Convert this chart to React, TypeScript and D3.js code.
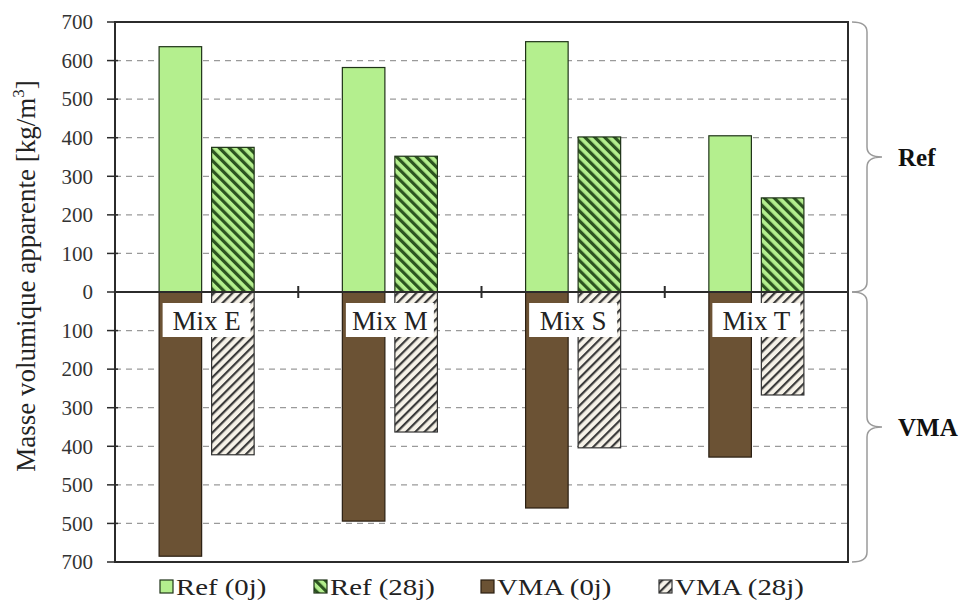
import React from "react";
import * as d3 from "d3";

const categories = ["Mix E", "Mix M", "Mix S", "Mix T"];
const ages = ["0j", "28j"];
const ref0j = [636, 582, 649, 405];
const ref28j = [375, 352, 402, 244];
const vma0j = [685, 594, 560, 428];
const vma28j = [422, 363, 404, 267];
const tickValues = [700, 600, 500, 400, 300, 200, 100, 0, -100, -200, -300, -400, -500, -600, -700];
const tickLabels = ["700", "600", "500", "400", "300", "200", "100", "0", "100", "200", "300", "400", "500", "500", "700"];
const legendLabels = ["Ref (0j)", "Ref (28j)", "VMA (0j)", "VMA (28j)"];
const groupLabels = ["Ref", "VMA"];

const W = 966;
const H = 606;
const PL = 115, PR = 848, PT = 22, PB = 562;
const FONT = "'Liberation Serif', 'Times New Roman', Times, serif";
const GREEN = "#b4ef8e";
const BROWN = "#6b5234";
const TXT = { fontFamily: FONT };

export default function App() {
  const y = d3.scaleLinear().domain([-700, 700]).range([PB, PT]);
  const x0 = d3.scaleBand<string>().domain(categories).range([PL, PR]);
  const x1 = d3
    .scaleBand<string>()
    .domain(ages)
    .range([0, x0.bandwidth()])
    .paddingInner(0.19)
    .paddingOuter(0.84);
  const bw = x1.bandwidth();
  const y0 = y(0);

  const fills = [GREEN, "url(#hatchGreen)", BROWN, "url(#hatchGray)"];
  const strokes = ["#1f3318", "#1f3318", "#2a1f12", "#333"];

  const brace = (ya: number, yb: number) => {
    const xa = 852, xv = 867, xt = 882, r = 10;
    const mid = (ya + yb) / 2;
    const p = d3.path();
    p.moveTo(xa, ya);
    p.quadraticCurveTo(xv, ya, xv, ya + r);
    p.lineTo(xv, mid - r);
    p.quadraticCurveTo(xv, mid, xt, mid);
    p.quadraticCurveTo(xv, mid, xv, mid + r);
    p.lineTo(xv, yb - r);
    p.quadraticCurveTo(xv, yb, xa, yb);
    return p.toString();
  };

  const legendX = [160, 314, 481, 659];

  return (
    <svg
      width={W}
      height={H}
      style={{ position: "absolute", left: 0, top: 0, background: "#fff", fontFamily: FONT }}
    >
      <defs>
        <pattern id="hatchGreen" patternUnits="userSpaceOnUse" width="7" height="7" patternTransform="rotate(-45)">
          <rect width="7" height="7" fill={GREEN} />
          <rect width="3.2" height="7" fill="#2c5420" />
        </pattern>
        <pattern id="hatchGray" patternUnits="userSpaceOnUse" width="6.5" height="6.5" patternTransform="rotate(45)">
          <rect width="6.5" height="6.5" fill="#f6f2e8" />
          <rect width="2.2" height="6.5" fill="#3a3a3a" />
        </pattern>
      </defs>

      {/* gridlines */}
      {tickValues
        .filter((v) => v !== 0 && Math.abs(v) !== 700)
        .map((v) => (
          <line key={"g" + v} x1={PL} x2={PR} y1={y(v)} y2={y(v)} stroke="#9a9a9a" strokeWidth={1.2} strokeDasharray="6,5" />
        ))}

      {/* bars */}
      {categories.map((c, i) => {
        const bx0 = (x0(c) as number) + (x1("0j") as number);
        const bx28 = (x0(c) as number) + (x1("28j") as number);
        return (
          <g key={c}>
            <rect x={bx0} y={y(ref0j[i])} width={bw} height={y0 - y(ref0j[i])} fill={fills[0]} stroke={strokes[0]} strokeWidth={1.2} />
            <rect x={bx28} y={y(ref28j[i])} width={bw} height={y0 - y(ref28j[i])} fill={fills[1]} stroke={strokes[1]} strokeWidth={1.2} />
            <rect x={bx0} y={y0} width={bw} height={y(-vma0j[i]) - y0} fill={fills[2]} stroke={strokes[2]} strokeWidth={1.2} />
            <rect x={bx28} y={y0} width={bw} height={y(-vma28j[i]) - y0} fill={fills[3]} stroke={strokes[3]} strokeWidth={1.2} />
          </g>
        );
      })}

      {/* zero line and category ticks */}
      <line x1={PL} x2={PR} y1={y0} y2={y0} stroke="#2b2b2b" strokeWidth={2} />
      {categories.slice(1).map((c) => (
        <line key={"ct" + c} x1={x0(c) as number} x2={x0(c) as number} y1={y0 - 6} y2={y0 + 6} stroke="#2b2b2b" strokeWidth={2} />
      ))}

      {/* frame */}
      <rect x={PL} y={PT} width={PR - PL} height={PB - PT} fill="none" stroke="#2b2b2b" strokeWidth={2} />

      {/* y ticks */}
      {tickValues.map((v, i) => (
        <g key={"t" + i}>
          <line x1={PL - 8} x2={PL + 3} y1={y(v)} y2={y(v)} stroke="#2b2b2b" strokeWidth={1.5} />
          <text x={93} y={y(v)} dy="0.35em" textAnchor="end" fontSize={21} fill="#333" style={TXT}>
            {tickLabels[i]}
          </text>
        </g>
      ))}

      {/* category labels */}
      {categories.map((c) => {
        const cx = (x0(c) as number) + x0.bandwidth() / 2;
        return (
          <g key={"cl" + c}>
            <rect x={cx - 44} y={303} width={88} height={34} fill="#fff" />
            <text x={cx} y={321} dy="0.35em" textAnchor="middle" fontSize={27} fill="#222" style={TXT}>
              {c}
            </text>
          </g>
        );
      })}

      {/* y axis title */}
      <text
        transform={`translate(35, 276) rotate(-90)`}
        textAnchor="middle"
        fontSize={27}
        fill="#222"
        style={TXT}
      >
        Masse volumique apparente [kg/m
        <tspan fontSize={17} dy="-11">3</tspan>
        <tspan dy="11">]</tspan>
      </text>

      {/* braces */}
      <path d={brace(y(700), y(0))} fill="none" stroke="#9a9a9a" strokeWidth={1.5} />
      <path d={brace(y(0), y(-700))} fill="none" stroke="#9a9a9a" strokeWidth={1.5} />
      <text x={898} y={(y(700) + y(0)) / 2} dy="0.35em" fontSize={25} fontWeight="bold" fill="#111" style={TXT}>
        {groupLabels[0]}
      </text>
      <text x={898} y={(y(0) + y(-700)) / 2} dy="0.35em" fontSize={25} fontWeight="bold" fill="#111" style={TXT}>
        {groupLabels[1]}
      </text>

      {/* legend */}
      {legendLabels.map((l, i) => (
        <g key={"lg" + i}>
          <rect x={legendX[i]} y={580} width={13} height={13} fill={fills[i]} stroke={strokes[i]} strokeWidth={1.2} />
          <text
            transform={`translate(${legendX[i] + 16}, 587) scale(1.2, 1)`}
            dy="0.35em"
            fontSize={24}
            fill="#222"
            style={TXT}
          >
            {l}
          </text>
        </g>
      ))}
    </svg>
  );
}
